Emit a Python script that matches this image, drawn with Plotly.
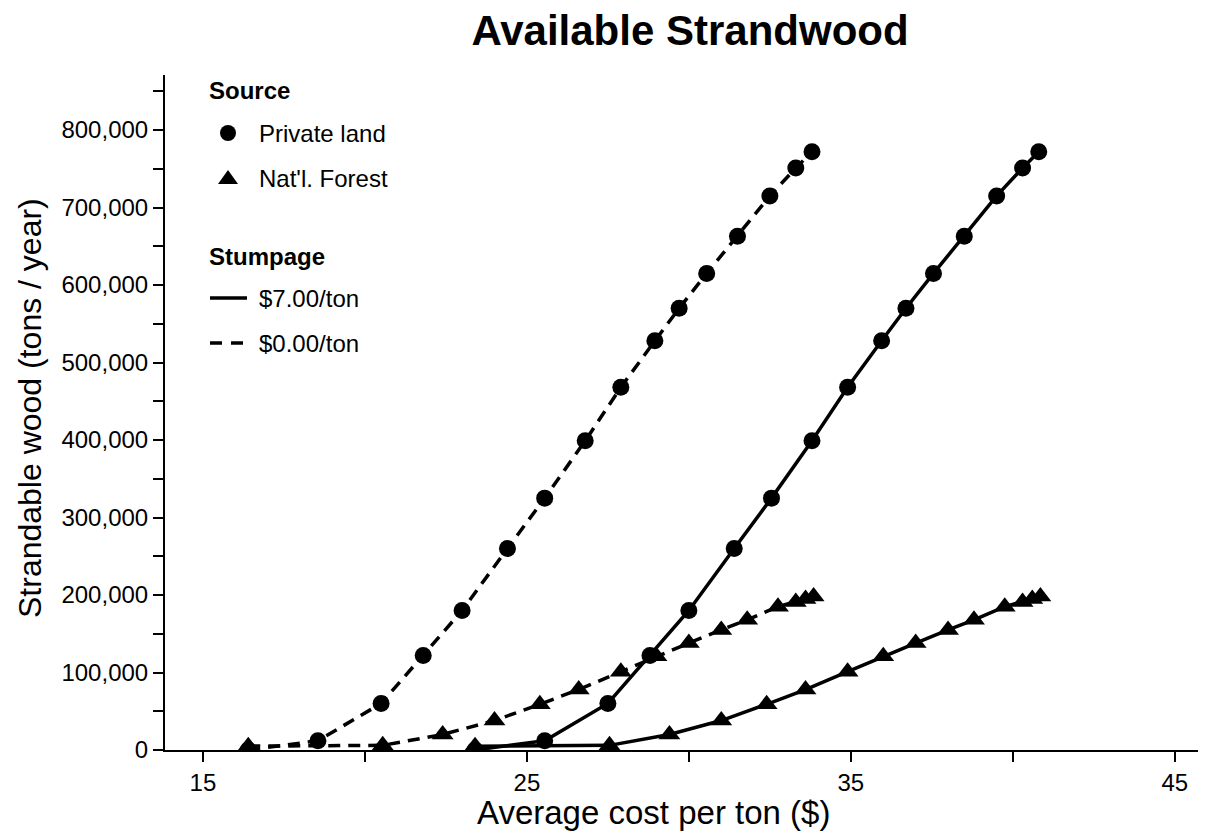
import plotly.graph_objects as go

# ---------------- data ----------------
private_cost_0 = [16.4, 18.55, 20.5, 21.8, 23.0, 24.4, 25.55, 26.8, 27.9, 28.95,
                  29.7, 30.55, 31.5, 32.5, 33.3, 33.8]
private_cost_7 = [23.4, 25.55, 27.5, 28.8, 30.0, 31.4, 32.55, 33.8, 34.9, 35.95,
                  36.7, 37.55, 38.5, 39.5, 40.3, 40.8]
private_wood = [0, 12000, 60000, 122000, 180000, 260000, 325000, 399000, 468000,
                528000, 570000, 615000, 663000, 715000, 751000, 772000]

forest_cost_0 = [16.4, 20.55, 22.4, 24.0, 25.4, 26.6, 27.9, 29.0, 30.0, 31.0,
                 31.8, 32.75, 33.3, 33.6, 33.85]
forest_cost_7 = [23.4, 27.55, 29.4, 31.0, 32.4, 33.6, 34.9, 36.0, 37.0, 38.0,
                 38.8, 39.75, 40.3, 40.6, 40.85]
forest_wood = [5000, 6000, 20000, 38000, 59000, 78000, 101000, 121000, 138000,
               155000, 168000, 185000, 191000, 195000, 198000]

x_tick_vals = [15, 25, 35, 45]
x_tick_text = ["15", "25", "35", "45"]
y_tick_vals = [0, 100000, 200000, 300000, 400000, 500000, 600000, 700000, 800000]

title_text = "Available Strandwood"
x_title = "Average cost per ton ($)"
y_title = "Strandable wood (tons / year)"
legend_source = ["Private land", "Nat'l. Forest"]
legend_stump = ["$7.00/ton", "$0.00/ton"]

# ---------------- style ----------------
FONT = "Liberation Sans, Arial, sans-serif"
W, H = 1206, 837
OFF = 8  # page body margin
# target plot area in screenshot pixels: left 165, right 1204, top 75, bottom 750
ML, MT = 165 - OFF, 75 - OFF
MR = W - (1204 - OFF)
MB = H - (750 - OFF)
PW, PH = W - ML - MR, H - MT - MB
LW = 3.5
DASH = "12px,8px"
CIRC = dict(symbol="circle", size=17, color="black")
TRI = dict(symbol="triangle-up", size=19, color="black")


def paper(px, py):
    """screenshot pixel -> paper fraction"""
    return (px - OFF - ML) / PW, (H - MB - (py - OFF)) / PH


fig = go.Figure()
fig.add_trace(go.Scatter(x=private_cost_0, y=private_wood, mode="lines+markers",
                         line=dict(color="black", width=LW, dash=DASH), marker=CIRC,
                         showlegend=False))
fig.add_trace(go.Scatter(x=private_cost_7, y=private_wood, mode="lines+markers",
                         line=dict(color="black", width=LW), marker=CIRC,
                         showlegend=False))
fig.add_trace(go.Scatter(x=forest_cost_0, y=forest_wood, mode="lines+markers",
                         line=dict(color="black", width=LW, dash=DASH), marker=TRI,
                         showlegend=False))
fig.add_trace(go.Scatter(x=forest_cost_7, y=forest_wood, mode="lines+markers",
                         line=dict(color="black", width=LW), marker=TRI,
                         showlegend=False))

# ---------------- manual legend ----------------
shapes = []
annotations = []
LEG = 24
for head, py in [("Source", 90), ("Stumpage", 256)]:
    hx, hy = paper(207, py)
    annotations.append(dict(x=hx, y=hy, xref="paper", yref="paper",
                            text="<b>" + head + "</b>", showarrow=False,
                            xanchor="left", yanchor="middle",
                            font=dict(family=FONT, size=LEG, color="black")))
for label, py in zip(legend_source + legend_stump, [133, 178, 298, 343]):
    tx, ty = paper(257, py)
    annotations.append(dict(x=tx, y=ty, xref="paper", yref="paper", text=label,
                            showarrow=False, xanchor="left", yanchor="middle",
                            font=dict(family=FONT, size=LEG, color="black")))

cx, cy = paper(228, 133)
shapes.append(dict(type="circle", xref="paper", yref="paper", xsizemode="pixel",
                   ysizemode="pixel", xanchor=cx, yanchor=cy, x0=-8, x1=8,
                   y0=-8, y1=8, fillcolor="black", line=dict(width=0)))
tx, ty = paper(228, 178)
shapes.append(dict(type="path", xref="paper", yref="paper", xsizemode="pixel",
                   ysizemode="pixel", xanchor=tx, yanchor=ty,
                   path="M -10,-6 L 10,-6 L 0,8 Z", fillcolor="black",
                   line=dict(width=0)))
x0, ly = paper(210, 298)
x1, _ = paper(247, 298)
shapes.append(dict(type="line", xref="paper", yref="paper", x0=x0, x1=x1, y0=ly, y1=ly,
                   line=dict(color="black", width=LW)))
x0, ly = paper(210, 343)
x1, _ = paper(243, 343)
shapes.append(dict(type="line", xref="paper", yref="paper", x0=x0, x1=x1, y0=ly, y1=ly,
                   line=dict(color="black", width=LW, dash="12px,9px")))

# axis titles
ax_, ay_ = paper(653, 812)
annotations.append(dict(x=ax_, y=ay_, xref="paper", yref="paper", text=x_title,
                        showarrow=False, xanchor="center", yanchor="middle",
                        font=dict(family=FONT, size=33, color="black")))
ax_, ay_ = paper(30, 408)
annotations.append(dict(x=ax_, y=ay_, xref="paper", yref="paper", text=y_title,
                        showarrow=False, xanchor="center", yanchor="middle",
                        textangle=-90, font=dict(family=FONT, size=32, color="black")))

fig.update_layout(
    width=W, height=H,
    margin=dict(l=ML, r=MR, t=MT, b=MB),
    paper_bgcolor="white", plot_bgcolor="white",
    title=dict(text="<b>" + title_text + "</b>", x=(690 - OFF) / W,
               y=1 - (30 - OFF) / H,
               xref="container", yref="container", xanchor="center", yanchor="middle",
               font=dict(family=FONT, size=42, color="black")),
    shapes=shapes, annotations=annotations,
    font=dict(family=FONT, color="black"),
)
fig.update_xaxes(range=[13.83, 45.9], showgrid=False, zeroline=False,
                 showline=True, linecolor="black", linewidth=2,
                 ticks="outside", ticklen=10, tickwidth=2, tickcolor="black",
                 tickvals=x_tick_vals, ticktext=x_tick_text,
                 tickfont=dict(family=FONT, size=24, color="black"),
                 minor=dict(dtick=5, tick0=15, ticks="outside", ticklen=10,
                            tickwidth=2, tickcolor="black", showgrid=False))
fig.update_yaxes(range=[0, 871000], showgrid=False, zeroline=False,
                 showline=True, linecolor="black", linewidth=2,
                 ticks="outside", ticklen=10, tickwidth=2, tickcolor="black",
                 tickvals=y_tick_vals, tickformat=",d",
                 tickfont=dict(family=FONT, size=24, color="black"),
                 minor=dict(dtick=50000, tick0=0, ticks="outside", ticklen=10,
                            tickwidth=2, tickcolor="black", showgrid=False))

fig.write_html("out.html")
